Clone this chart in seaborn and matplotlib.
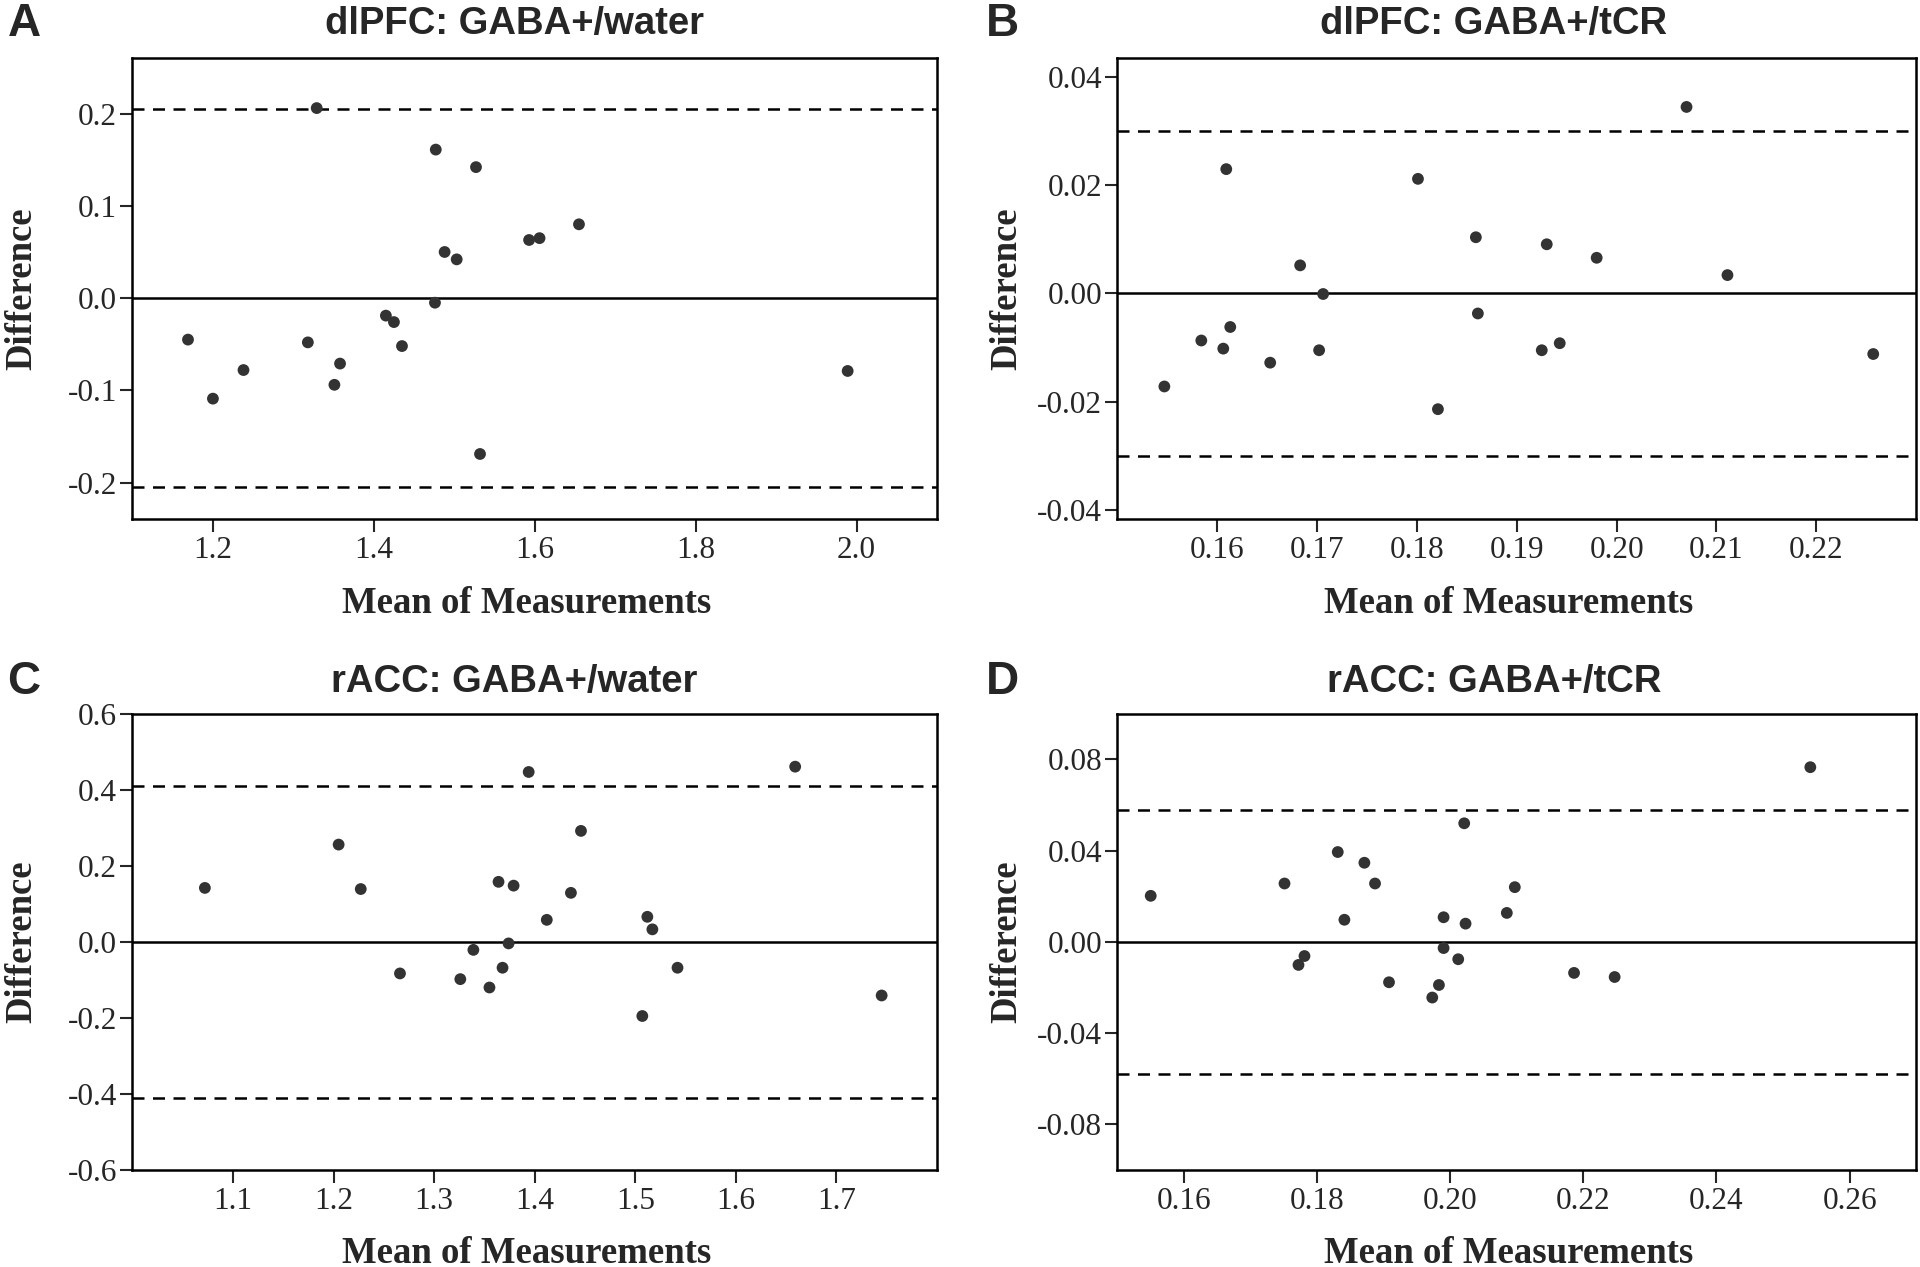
import numpy as np
import pandas as pd
import matplotlib
matplotlib.use("Agg")
import matplotlib.pyplot as plt
import seaborn as sns


# Bland-Altman data

# A  dlPFC: GABA+/water
a_mean = [1.329, 1.477, 1.527, 1.655, 1.593, 1.606, 1.488, 1.503, 1.476, 1.415,
          1.425, 1.435, 1.169, 1.318, 1.358, 1.238, 1.351, 1.200, 1.532, 1.989]
a_diff = [0.206, 0.161, 0.142, 0.080, 0.063, 0.065, 0.050, 0.042, -0.005, -0.019,
          -0.026, -0.052, -0.045, -0.048, -0.071, -0.078, -0.094, -0.109, -0.169, -0.079]
a_loa = 0.205

# B  dlPFC: GABA+/tCR
b_mean = [0.2070, 0.1609, 0.1801, 0.1859, 0.1930, 0.1980, 0.1683, 0.2111, 0.1706, 0.1861,
          0.1613, 0.1584, 0.1606, 0.1702, 0.1925, 0.1943, 0.1653, 0.1547, 0.1821, 0.2257]
b_diff = [0.0345, 0.0230, 0.0212, 0.0104, 0.0091, 0.0066, 0.0052, 0.0034, -0.0001, -0.0037,
          -0.0062, -0.0087, -0.0102, -0.0105, -0.0105, -0.0092, -0.0128, -0.0172, -0.0214, -0.0112]
b_loa = 0.030

# C  rACC: GABA+/water
c_mean = [1.072, 1.205, 1.227, 1.266, 1.326, 1.339, 1.355, 1.364, 1.368, 1.374, 1.379,
          1.394, 1.412, 1.436, 1.446, 1.507, 1.512, 1.517, 1.542, 1.659, 1.745]
c_diff = [0.142, 0.256, 0.139, -0.083, -0.098, -0.021, -0.120, 0.158, -0.068, -0.004, 0.148,
          0.447, 0.058, 0.129, 0.292, -0.195, 0.066, 0.033, -0.068, 0.461, -0.141]
c_loa = 0.41

# D  rACC: GABA+/tCR
d_mean = [0.1550, 0.1751, 0.1772, 0.1781, 0.1831, 0.1841, 0.1871, 0.1887, 0.1908, 0.1973, 0.1983,
          0.1990, 0.1990, 0.2012, 0.2021, 0.2023, 0.2085, 0.2097, 0.2186, 0.2247, 0.2541]
d_diff = [0.0202, 0.0256, -0.0101, -0.0062, 0.0394, 0.0097, 0.0347, 0.0256, -0.0177, -0.0244, -0.0189,
          0.0108, -0.0027, -0.0076, 0.0520, 0.0080, 0.0127, 0.0240, -0.0136, -0.0154, 0.0766]
d_loa = 0.058

panels = [
    # letter, title, x, y, loa, xlim, ylim, xticks, yticks, fmt_x, fmt_y, rect
    ("A", "dlPFC: GABA+/water", a_mean, a_diff, a_loa, (1.1, 2.1), (-0.24, 0.26),
     [1.2, 1.4, 1.6, 1.8, 2.0], [-0.2, -0.1, 0.0, 0.1, 0.2], "%.1f", "%.1f",
     [0.069, 0.590, 0.419, 0.364]),
    ("B", "dlPFC: GABA+/tCR", b_mean, b_diff, b_loa, (0.15, 0.23), (-0.0418, 0.0435),
     [0.16, 0.17, 0.18, 0.19, 0.20, 0.21, 0.22], [-0.04, -0.02, 0.0, 0.02, 0.04], "%.2f", "%.2f",
     [0.582, 0.590, 0.416, 0.364]),
    ("C", "rACC: GABA+/water", c_mean, c_diff, c_loa, (1.0, 1.8), (-0.6, 0.6),
     [1.1, 1.2, 1.3, 1.4, 1.5, 1.6, 1.7], [-0.6, -0.4, -0.2, 0.0, 0.2, 0.4, 0.6], "%.1f", "%.1f",
     [0.069, 0.0766, 0.419, 0.360]),
    ("D", "rACC: GABA+/tCR", d_mean, d_diff, d_loa, (0.15, 0.27), (-0.1, 0.1),
     [0.16, 0.18, 0.20, 0.22, 0.24, 0.26], [-0.08, -0.04, 0.0, 0.04, 0.08], "%.2f", "%.2f",
     [0.582, 0.0766, 0.416, 0.360]),
]

sns.set_style("ticks")
plt.rcParams["font.family"] = ["Liberation Serif", "DejaVu Serif"]
plt.rcParams["axes.unicode_minus"] = False

title_font = ["Liberation Sans Narrow", "Liberation Sans", "DejaVu Sans"]
letter_font = ["Liberation Sans", "DejaVu Sans"]

fig = plt.figure(figsize=(19.2, 12.67), dpi=100)

# where titles / letters sit (figure fraction)
title_pos = {"A": (0.268, 0.981), "B": (0.778, 0.981), "C": (0.268, 0.462), "D": (0.778, 0.462)}
letter_pos = {"A": (0.0125, 0.981), "B": (0.522, 0.981), "C": (0.0125, 0.462), "D": (0.522, 0.462)}

for letter, title, xs, ys, loa, xlim, ylim, xt, yt, fx, fy, rect in panels:
    ax = fig.add_axes(rect)
    df = pd.DataFrame({"mean": xs, "diff": ys})
    sns.scatterplot(data=df, x="mean", y="diff", ax=ax, s=72, color="#333333",
                    edgecolor="none", zorder=3)
    ax.axhline(0, color="black", lw=1.8, zorder=2)
    for v in (loa, -loa):
        ax.axhline(v, color="black", lw=1.8, ls=(0, (4.8, 3.4)), zorder=2)

    ax.set_xlim(*xlim)
    ax.set_ylim(*ylim)
    ax.set_xticks(xt)
    ax.set_yticks(yt)
    ax.xaxis.set_major_formatter(matplotlib.ticker.FormatStrFormatter(fx))
    ax.yaxis.set_major_formatter(matplotlib.ticker.FormatStrFormatter(fy))
    ax.tick_params(axis="both", labelsize=22.5, length=9, width=1.5, direction="out")
    ax.tick_params(axis="x", pad=3)
    ax.tick_params(axis="y", pad=2)
    for sp in ax.spines.values():
        sp.set_linewidth(1.8)
        sp.set_color("black")

    ax.set_xlabel("Mean of Measurements", fontsize=26.5, fontweight="bold")
    ax.set_ylabel("Difference", fontsize=26.5, fontweight="bold")
    ax.xaxis.set_label_coords(0.49, -0.145)
    ax.yaxis.set_label_coords(-0.116, 0.5)

    tx, ty = title_pos[letter]
    fig.text(tx, ty, title, ha="center", va="center", fontsize=27.5, fontweight="bold",
             family=title_font)
    lx, ly = letter_pos[letter]
    fig.text(lx, ly, letter, ha="center", va="center", fontsize=33, fontweight="bold",
             family=letter_font)

fig.savefig("out.png", dpi=100)
